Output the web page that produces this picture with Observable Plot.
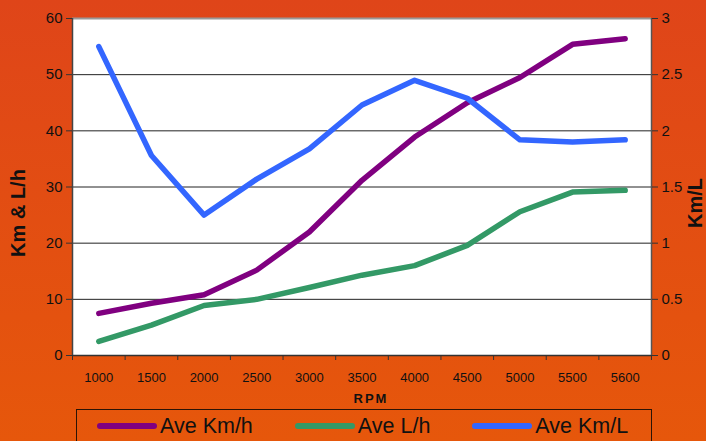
<!DOCTYPE html>
<html><head><meta charset="utf-8">
<script src="https://cdn.jsdelivr.net/npm/d3@7"></script>
<script src="https://cdn.jsdelivr.net/npm/@observablehq/plot@0.6"></script>
<style>
html,body{margin:0;padding:0;width:706px;height:441px;overflow:hidden;}
body{background:linear-gradient(#DF4519,#E6570B);font-family:"Liberation Sans",Arial,sans-serif;position:relative;}
#chart svg{display:block;}
#legend{position:absolute;left:76px;top:409px;width:576px;height:40px;border:1px solid #2b1406;box-sizing:border-box;display:flex;align-items:flex-start;padding-left:20px;gap:42px;}
.item{display:flex;align-items:center;height:32px;font-size:21.5px;color:#111;white-space:nowrap;}
.swatch{display:inline-block;width:60px;height:6px;border-radius:3px;margin-right:3px;}
</style></head><body>
<div id="chart"></div><div id="legend"></div>
<script>
const rpm = ["1000","1500","2000","2500","3000","3500","4000","4500","5000","5500","5600"];
const kmh = [7.5, 9.3, 10.8, 15.2, 22.0, 31.2, 38.9, 45.0, 49.5, 55.4, 56.4];
const lh  = [2.5, 5.4, 8.9, 10.0, 12.1, 14.3, 16.0, 19.6, 25.6, 29.1, 29.4];
const kml = [2.75, 1.78, 1.25, 1.57, 1.84, 2.23, 2.45, 2.29, 1.92, 1.90, 1.92];
const leftTicks = [0, 10, 20, 30, 40, 50, 60];
const rightTicks = [0, 0.5, 1, 1.5, 2, 2.5, 3];
const seriesNames = ["Ave Km/h", "Ave L/h", "Ave Km/L"];
const seriesColors = ["#800080", "#339966", "#3366FF"];

const ratio = leftTicks[leftTicks.length - 1] / rightTicks[rightTicks.length - 1];
const idx = rpm.map((_, i) => i + 1);
const bounds = d3.range(0.5, rpm.length + 1, 1);
const mk = (vals, k) => vals.map((v, i) => ({i: i + 1, v: k ? v * ratio : v}));
const dKmh = mk(kmh, false), dLh = mk(lh, false), dKml = mk(kml, true);
const lineOpts = (c) => ({x: "i", y: "v", stroke: c, strokeWidth: 5.5, strokeLinecap: "round", strokeLinejoin: "round"});

const plot = Plot.plot({
  width: 706, height: 407,
  marginLeft: 72, marginRight: 55, marginTop: 18, marginBottom: 52,
  style: {background: "transparent", fontFamily: "Liberation Sans, Arial, sans-serif", color: "#111"},
  x: {domain: [0.5, rpm.length + 0.5]},
  y: {domain: [leftTicks[0], leftTicks[leftTicks.length - 1]]},
  marks: [
    Plot.frame({fill: "white", stroke: "none"}),
    Plot.ruleY(leftTicks.slice(1, -1), {stroke: "#222", strokeWidth: 1}),
    Plot.ruleY([leftTicks[leftTicks.length - 1]], {stroke: "#999", strokeWidth: 2}),
    Plot.ruleY([0], {stroke: "#333", strokeWidth: 1.5}),
    Plot.ruleX([bounds[0]], {stroke: "#444", strokeWidth: 1.5}),
    Plot.ruleX([bounds[bounds.length - 1]], {stroke: "#555", strokeWidth: 1.5}),
    Plot.line(dKmh, lineOpts(seriesColors[0])),
    Plot.line(dLh, lineOpts(seriesColors[1])),
    Plot.line(dKml, lineOpts(seriesColors[2])),
    Plot.axisY({ticks: leftTicks, tickSize: 6, tickPadding: 4, fontSize: 15, label: null, stroke: "#333"}),
    Plot.axisY({anchor: "right", ticks: rightTicks.map(t => t * ratio), tickFormat: d => String(d / ratio), tickSize: 6, tickPadding: 4, fontSize: 15, label: null, stroke: "#333"}),
    Plot.axisX({ticks: bounds, tickFormat: () => "", tickSize: 5, label: null, stroke: "#333"}),
    Plot.axisX({ticks: idx, tickFormat: i => rpm[i - 1], tickSize: 0, tickPadding: 17, fontSize: 13, label: null}),
    Plot.text(["RPM"], {frameAnchor: "bottom", dx: 9, dy: 43, fontSize: 13, fontWeight: "bold", lineAnchor: "middle", textAnchor: "middle", className: "rpm"}),
    Plot.text(["Km & L/h"], {frameAnchor: "left", rotate: -90, dx: -54, dy: 26, fontSize: 20, fontWeight: "bold", lineAnchor: "middle", textAnchor: "middle"}),
    Plot.text(["Km/L"], {frameAnchor: "right", rotate: -90, dx: 44, dy: 16, fontSize: 20, fontWeight: "bold", lineAnchor: "middle", textAnchor: "middle"})
  ]
});
document.getElementById("chart").appendChild(plot);
d3.select(plot).selectAll(".rpm text").style("letter-spacing", "2px");

const legend = d3.select("#legend");
seriesNames.forEach((n, k) => {
  const it = legend.append("div").attr("class", "item");
  it.append("span").attr("class", "swatch").style("background", seriesColors[k]);
  it.append("span").text(n);
});
</script>
</body></html>
